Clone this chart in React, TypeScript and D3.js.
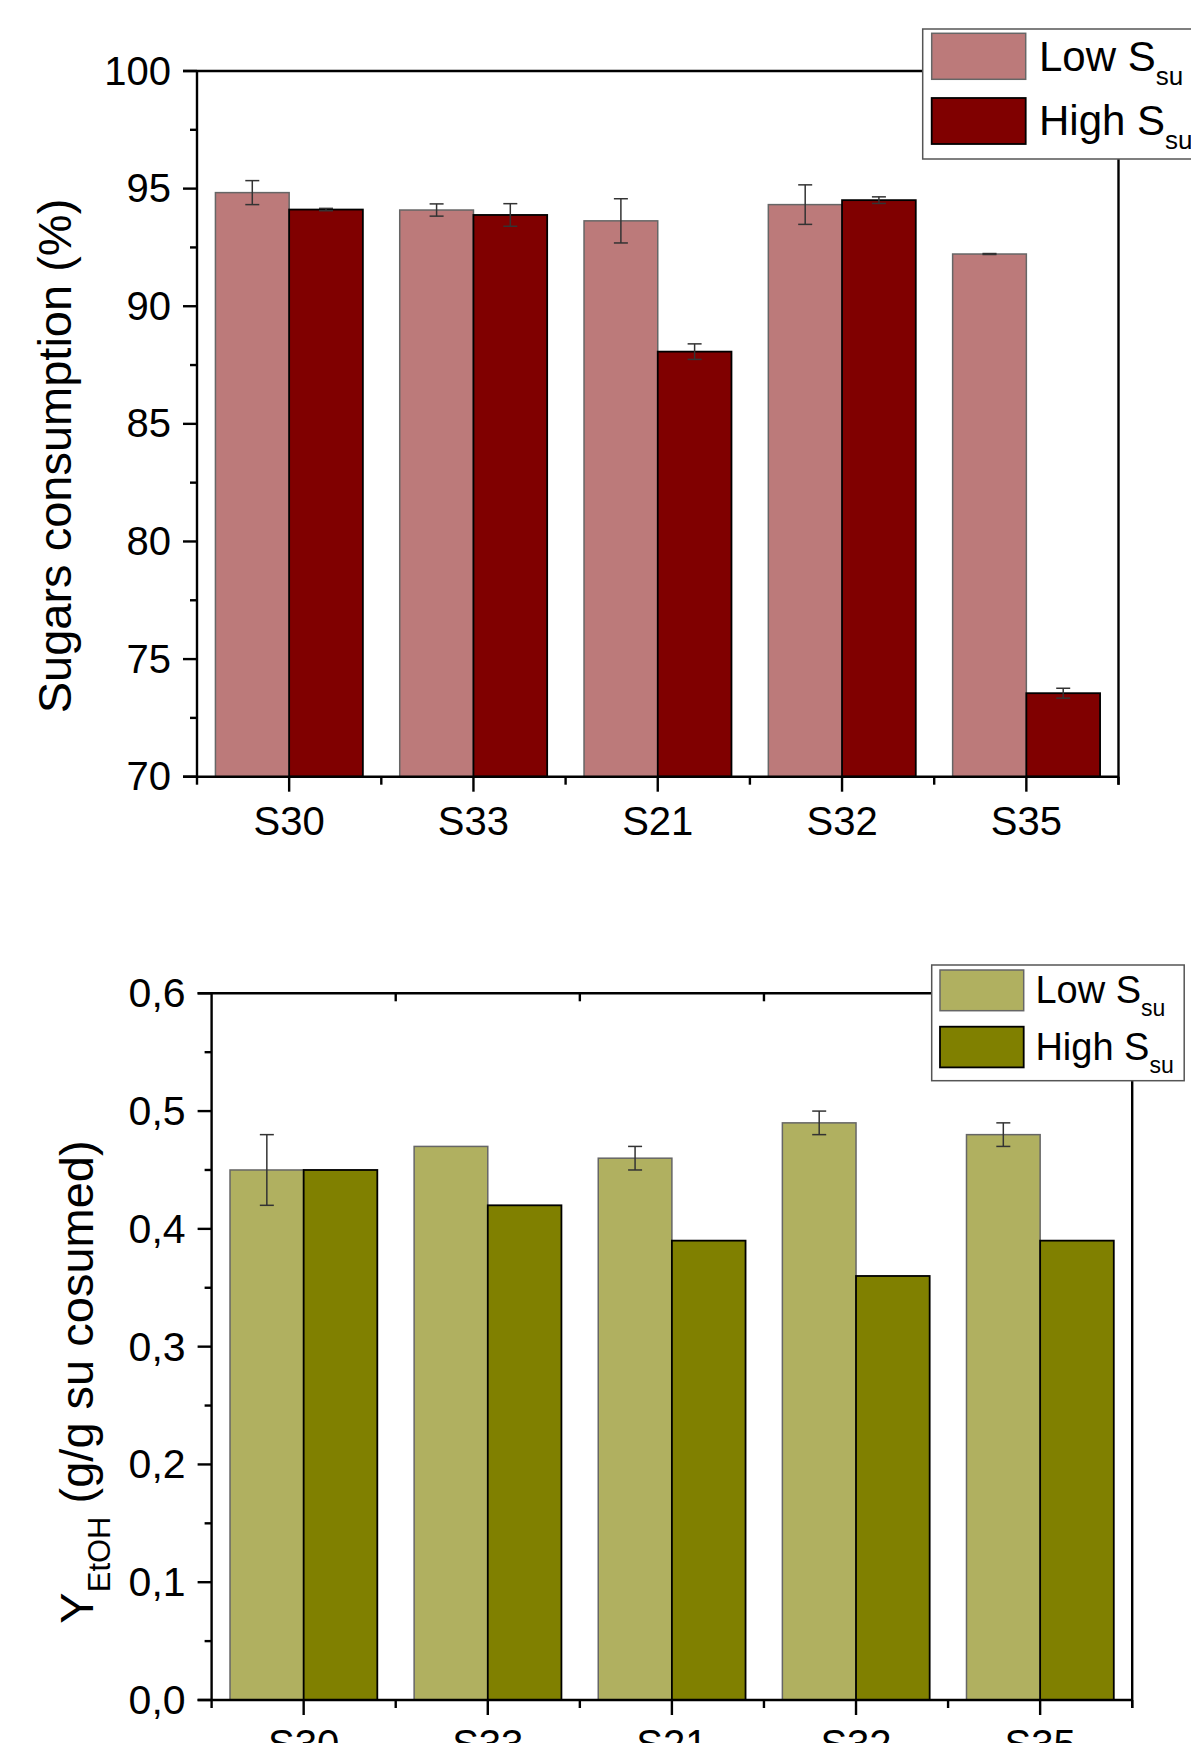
import React from "react";
import * as d3 from "d3";

const categories = ["S30", "S33", "S21", "S32", "S35"];

// sugars consumption (%)
const sugarLow = [94.83, 94.09, 93.63, 94.32, 92.22];
const sugarLowErr = [0.51, 0.26, 0.94, 0.84, 0.02];
const sugarHigh = [94.11, 93.88, 88.07, 94.51, 73.55];
const sugarHighErr = [0.05, 0.48, 0.33, 0.14, 0.21];
const sugarTicks = [70, 75, 80, 85, 90, 95, 100];

// ethanol yield
const yieldLow = [0.45, 0.47, 0.46, 0.49, 0.48];
const yieldLowErr = [0.03, 0, 0.01, 0.01, 0.01];
const yieldHigh = [0.45, 0.42, 0.39, 0.36, 0.39];
const yieldHighErr = [0, 0, 0, 0, 0];
const yieldTicks = [0, 0.1, 0.2, 0.3, 0.4, 0.5, 0.6];

const FONT = "'Liberation Sans', Arial, sans-serif";

interface PanelProps {
  left: number;
  right: number;
  top: number;
  bottom: number;
  domain: [number, number];
  ticks: number[];
  minorStep: number;
  fmt: (v: number) => string;
  low: number[];
  lowErr: number[];
  high: number[];
  highErr: number[];
  lowColor: string;
  highColor: string;
  topTicks: boolean;
  tickFont: number;
  yLabel: React.ReactNode;
  legend: {
    x: number; y: number; w: number; h: number;
    sx: number; sw: number; sh: number; sy1: number; sy2: number;
    tx: number; b1: number; b2: number; font: number; sub: number; dy: number;
  };
}

const Panel = (p: PanelProps) => {
  const x = d3.scaleBand().domain(categories).range([p.left, p.right]).padding(0);
  const y = d3.scaleLinear().domain(p.domain).range([p.bottom, p.top]);
  const bw = x.bandwidth();
  const minor = d3.range(p.domain[0] + p.minorStep / 2, p.domain[1], p.minorStep);
  const bounds = d3.range(categories.length + 1).map((i) => p.left + i * bw);
  const L = p.legend;

  const errBar = (cx: number, v: number, e: number, key: string) => (
    <g key={key} stroke="#333" strokeWidth={1.5}>
      <line x1={cx} x2={cx} y1={y(v + e)} y2={y(v - e)} />
      <line x1={cx - 7} x2={cx + 7} y1={y(v + e)} y2={y(v + e)} />
      <line x1={cx - 7} x2={cx + 7} y1={y(v - e)} y2={y(v - e)} />
    </g>
  );

  return (
    <g fontFamily={FONT}>
      {/* bars */}
      {categories.map((c, i) => {
        const cx = (x(c) as number) + bw / 2;
        const w = bw * 0.4;
        return (
          <g key={c}>
            <rect x={cx - w} y={y(p.low[i])} width={w} height={p.bottom - y(p.low[i])}
              fill={p.lowColor} stroke="#666" strokeWidth={1.5} />
            <rect x={cx} y={y(p.high[i])} width={w} height={p.bottom - y(p.high[i])}
              fill={p.highColor} stroke="#000" strokeWidth={1.8} />
            {p.lowErr[i] > 0 && errBar(cx - w / 2, p.low[i], p.lowErr[i], "le")}
            {p.highErr[i] > 0 && errBar(cx + w / 2, p.high[i], p.highErr[i], "he")}
          </g>
        );
      })}

      {/* frame */}
      <g stroke="#000" strokeWidth={2.4} fill="none">
        <line x1={p.left - 14} x2={p.right} y1={p.top} y2={p.top} />
        <line x1={p.left} x2={p.left} y1={p.top} y2={p.bottom} />
        <line x1={p.right} x2={p.right} y1={p.top} y2={p.bottom + 8} />
        <line x1={p.left - 14} x2={p.right} y1={p.bottom} y2={p.bottom} />
        {p.ticks.map((t) => (
          <line key={"t" + t} x1={p.left - 14} x2={p.left} y1={y(t)} y2={y(t)} />
        ))}
        {minor.map((t) => (
          <line key={"m" + t} x1={p.left - 7} x2={p.left} y1={y(t)} y2={y(t)} />
        ))}
        {categories.map((c) => {
          const cx = (x(c) as number) + bw / 2;
          return <line key={"x" + c} x1={cx} x2={cx} y1={p.bottom} y2={p.bottom + 15} />;
        })}
        {bounds.map((b, i) => (
          <line key={"b" + i} x1={b} x2={b} y1={p.bottom} y2={p.bottom + 8} />
        ))}
        {p.topTicks &&
          bounds.slice(1, -1).map((b, i) => (
            <line key={"tb" + i} x1={b} x2={b} y1={p.top} y2={p.top + 8} />
          ))}
      </g>

      {/* tick labels */}
      {p.ticks.map((t) => (
        <text key={"l" + t} x={p.left - 26} y={y(t)} dy="0.34em" textAnchor="end"
          fontSize={p.tickFont}>{p.fmt(t)}</text>
      ))}
      {categories.map((c) => (
        <text key={"c" + c} x={(x(c) as number) + bw / 2} y={p.bottom + 58}
          textAnchor="middle" fontSize={40}>{c}</text>
      ))}

      {p.yLabel}

      {/* legend */}
      <rect x={L.x} y={L.y} width={L.w} height={L.h} fill="#fff" stroke="#555" strokeWidth={1.5} />
      <rect x={L.sx} y={L.sy1} width={L.sw} height={L.sh} fill={p.lowColor} stroke="#666" strokeWidth={1.5} />
      <rect x={L.sx} y={L.sy2} width={L.sw} height={L.sh} fill={p.highColor} stroke="#000" strokeWidth={1.8} />
      <text x={L.tx} y={L.b1} fontSize={L.font}>
        Low S<tspan fontSize={L.sub} dy={L.dy}>su</tspan>
      </text>
      <text x={L.tx} y={L.b2} fontSize={L.font}>
        High S<tspan fontSize={L.sub} dy={L.dy}>su</tspan>
      </text>
    </g>
  );
};

const App = () => {
  return (
    <svg width={1191} height={1743} style={{ position: "absolute", left: 0, top: 0 }}>
      <rect width={1191} height={1743} fill="#fff" />
      <Panel
        left={197} right={1118.5} top={71} bottom={776.7}
        domain={[70, 100]} ticks={sugarTicks} minorStep={5}
        fmt={(v) => String(v)}
        low={sugarLow} lowErr={sugarLowErr} high={sugarHigh} highErr={sugarHighErr}
        lowColor="#BC7A7A" highColor="#800000" topTicks={false} tickFont={40}
        yLabel={
          <text transform="translate(71,456) rotate(-90)" textAnchor="middle" fontSize={47}>
            Sugars consumption (%)
          </text>
        }
        legend={{
          x: 922.7, y: 29, w: 300, h: 130,
          sx: 931.7, sw: 94, sh: 46, sy1: 33.3, sy2: 98,
          tx: 1039, b1: 70.7, b2: 135, font: 42, sub: 26, dy: 14,
        }}
      />
      <Panel
        left={211.6} right={1132.2} top={993.3} bottom={1700}
        domain={[0, 0.6]} ticks={yieldTicks} minorStep={0.1}
        fmt={(v) => d3.format(".1f")(v).replace(".", ",")}
        low={yieldLow} lowErr={yieldLowErr} high={yieldHigh} highErr={yieldHighErr}
        lowColor="#B0B060" highColor="#808000" topTicks={true} tickFont={41}
        yLabel={
          <text transform="translate(93,1382) rotate(-90)" textAnchor="middle" fontSize={47}>
            Y<tspan fontSize={31} dy={17}>EtOH</tspan>
            <tspan dy={-17}> (g/g su cosumed)</tspan>
          </text>
        }
        legend={{
          x: 931.7, y: 965, w: 252.5, h: 115.7,
          sx: 940, sw: 83.7, sh: 40.7, sy1: 970, sy2: 1026.7,
          tx: 1035.4, b1: 1003.3, b2: 1060, font: 38, sub: 23, dy: 13,
        }}
      />
    </svg>
  );
};

export default App;
